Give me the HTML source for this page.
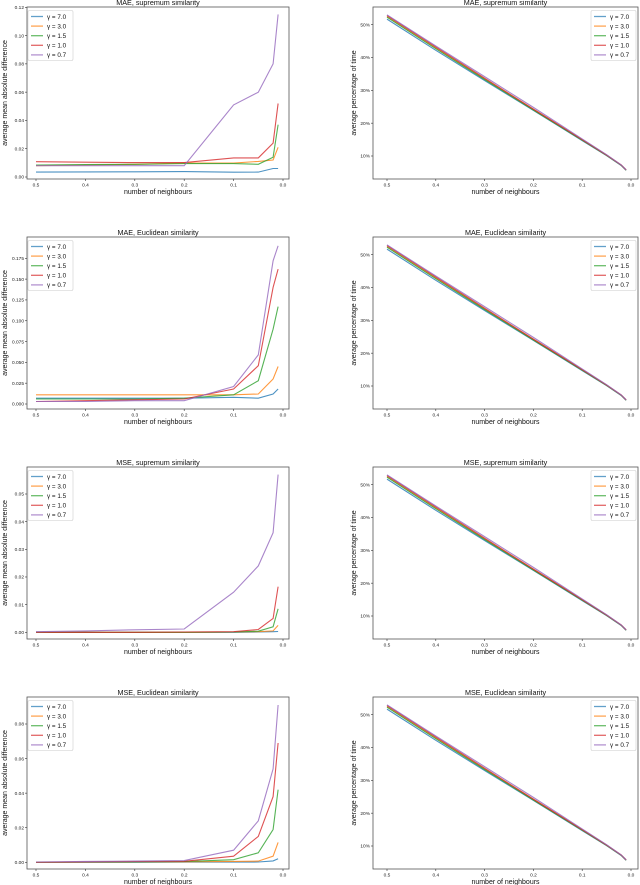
<!DOCTYPE html>
<html><head><meta charset="utf-8">
<style>
body{margin:0;background:#fff;}
svg{display:block;font-family:"Liberation Sans","DejaVu Sans",sans-serif;}
</style></head>
<body>
<svg id="fig" width="640" height="885" viewBox="0 0 640 885" xmlns="http://www.w3.org/2000/svg"></svg>
<script>
// ---- data ----
const xs = [0.5, 0.4, 0.3, 0.2, 0.1, 0.05, 0.02, 0.01];
const seriesNames = ["γ = 7.0", "γ = 3.0", "γ = 1.5", "γ = 1.0", "γ = 0.7"];
const titles = ["MAE, supremum similarity", "MAE, Euclidean similarity", "MSE, supremum similarity", "MSE, Euclidean similarity"];
const xTicks = [0.5, 0.4, 0.3, 0.2, 0.1, 0.0];
const xTickLabels = ["0.5", "0.4", "0.3", "0.2", "0.1", "0.0"];

const maeSup = [
  [0.0035, 0.0036, 0.0037, 0.0038, 0.0034, 0.0035, 0.006, 0.006],
  [0.008, 0.0085, 0.009, 0.0098, 0.0098, 0.011, 0.012, 0.021],
  [0.0085, 0.0088, 0.009, 0.0095, 0.0095, 0.009, 0.014, 0.037],
  [0.0108, 0.0105, 0.0102, 0.0102, 0.0135, 0.0135, 0.024, 0.052],
  [0.008, 0.008, 0.008, 0.008, 0.051, 0.06, 0.08, 0.115]
];
const maeEuc = [
  [0.007, 0.007, 0.007, 0.007, 0.008, 0.007, 0.012, 0.018],
  [0.011, 0.011, 0.011, 0.011, 0.011, 0.012, 0.03, 0.045],
  [0.006, 0.006, 0.006, 0.007, 0.011, 0.028, 0.09, 0.117],
  [0.003, 0.004, 0.005, 0.006, 0.018, 0.046, 0.14, 0.162],
  [0.003, 0.003, 0.004, 0.004, 0.021, 0.059, 0.172, 0.19]
];
const mseSup = [
  [0.0, 0.0, 0.0, 0.0, 0.0, 0.0001, 0.0002, 0.0003],
  [0.0, 0.0, 0.0, 0.0, 0.0001, 0.0002, 0.0005, 0.0025],
  [0.0, 0.0, 0.0, 0.0, 0.0001, 0.0004, 0.002, 0.0085],
  [0.0, 0.0, 0.0, 0.0001, 0.0002, 0.001, 0.005, 0.0165],
  [0.0002, 0.0005, 0.0009, 0.0012, 0.0145, 0.024, 0.036, 0.057]
];
const mseEuc = [
  [0.0, 0.0, 0.0, 0.0001, 0.0001, 0.0002, 0.0008, 0.002],
  [0.0, 0.0001, 0.0002, 0.0003, 0.0005, 0.0007, 0.0035, 0.0115],
  [0.0, 0.0002, 0.0003, 0.0004, 0.0015, 0.0055, 0.019, 0.042],
  [0.0, 0.0003, 0.0005, 0.0006, 0.0035, 0.015, 0.038, 0.069],
  [0.0002, 0.0005, 0.0007, 0.001, 0.007, 0.024, 0.054, 0.091]
];
const timePct = [
  [51.7, 42.2, 33.0, 23.9, 14.7, 10.1, 7.1, 5.6],
  [52.5, 42.9, 33.5, 24.2, 14.9, 10.2, 7.2, 5.7],
  [52.3, 42.7, 33.3, 24.0, 14.8, 10.2, 7.2, 5.7],
  [52.8, 43.2, 33.7, 24.3, 15.0, 10.3, 7.3, 5.8],
  [53.0, 43.5, 34.2, 24.8, 15.2, 10.4, 7.3, 5.8]
];
const leftData = [maeSup, maeEuc, mseSup, mseEuc];
const leftTicks = [
  [0, 0.02, 0.04, 0.06, 0.08, 0.10, 0.12],
  [0, 0.025, 0.05, 0.075, 0.1, 0.125, 0.15, 0.175],
  [0, 0.01, 0.02, 0.03, 0.04, 0.05],
  [0, 0.02, 0.04, 0.06, 0.08]
];
const leftTickLabels = [
  ["0.00","0.02","0.04","0.06","0.08","0.10","0.12"],
  ["0.000","0.025","0.050","0.075","0.100","0.125","0.150","0.175"],
  ["0.00","0.01","0.02","0.03","0.04","0.05"],
  ["0.00","0.02","0.04","0.06","0.08"]
];
const pctTicks = [10, 20, 30, 40, 50];
const pctTickLabels = ["10%", "20%", "30%", "40%", "50%"];
// ---- layout ----
const colors = ["#1f77b4","#ff7f0e","#2ca02c","#d62728","#9467bd"];
const rowTop = [7, 237, 467, 697];
const axH = 172;
const leftCal = [[0, 170, 0.12, 0.3],[0, 167, 0.175, 21.3],[0, 165.3, 0.05, 27],[0, 165.3, 0.08, 27]];
const NS = "http://www.w3.org/2000/svg";
const svg = document.getElementById("fig");
function el(tag, attrs, parent, text){
  const e = document.createElementNS(NS, tag);
  for (const k in attrs) e.setAttribute(k, attrs[k]);
  if (text !== undefined) e.textContent = text;
  (parent || svg).appendChild(e);
  return e;
}
function drawPanel(r, side){
  const left = side === 0 ? 27 : 373;
  const right = side === 0 ? 289 : 638;
  const top = rowTop[r], bottom = top + axH;
  const x0 = side === 0 ? 36 : 387, x1 = side === 0 ? 283 : 631;
  const xScale = v => x1 + (x0 - x1) * (v / 0.5);
  let yScale, ticks, labels, data;
  if (side === 0){
    const c = leftCal[r];
    yScale = v => top + c[1] + (c[3] - c[1]) * (v - c[0]) / (c[2] - c[0]);
    ticks = leftTicks[r]; labels = leftTickLabels[r]; data = leftData[r];
  } else {
    yScale = v => top + 17.7 + (149 - 17.7) * (50 - v) / 40;
    ticks = pctTicks; labels = pctTickLabels; data = timePct;
  }
  const g = el("g", {});
  
  
  const t = el("text", {x:(left+right)/2, y:top-2, "text-anchor":"middle", "font-size":"7.2", fill:"#111"}, g, titles[r]);
  
  
  data.forEach((s, i) => {
    const pts = s.map((v, j) => xScale(xs[j]).toFixed(1) + "," + yScale(v).toFixed(1)).join(" ");
    const pl = el("polyline", {points:pts, fill:"none", stroke:colors[i], "stroke-width":"1.1", "stroke-opacity":"0.8"}, g);
    
    
  });
  const frame = el("rect", {x:left, y:top, width:right-left, height:axH, fill:"none", stroke:"#555", "stroke-width":"0.8"}, g);
  
  
  xTicks.forEach((v, i) => {
    const x = xScale(v);
    el("line", {x1:x, x2:x, y1:bottom, y2:bottom+2, stroke:"#333", "stroke-width":"0.6"}, g);
    const tl = el("text", {x:x, y:bottom+7.5, "text-anchor":"middle", "font-size":"4.8", fill:"#222"}, g, xTickLabels[i]);
    
    
  });
  ticks.forEach((v, i) => {
    const y = yScale(v);
    el("line", {x1:left-2, x2:left, y1:y, y2:y, stroke:"#333", "stroke-width":"0.6"}, g);
    const tl = el("text", {x:left-3, y:y+1.7, "text-anchor":"end", "font-size":"4.8", fill:"#222"}, g, labels[i]);
    
    
  });
  const xl = el("text", {x:(left+right)/2, y:bottom+15, "text-anchor":"middle", "font-size":"7", fill:"#111"}, g, "number of neighbours");
  
  
  const yx = side === 0 ? 7 : 356;
  const ylab = side === 0 ? "average mean absolute difference" : "average percentage of time";
  const yl = el("text", {x:yx, y:top+axH/2, "text-anchor":"middle", "font-size":"7", fill:"#111", transform:"rotate(-90 "+yx+" "+(top+axH/2)+")"}, g, ylab);
  
  
  const lx = side === 0 ? 28 : 591, ly = top + 3.5;
  const lg = el("g", {}, g);
  
  
  el("rect", {x:lx, y:ly, width:45, height:50, rx:1.5, fill:"#fff", "fill-opacity":"0.85", stroke:"#ccc", "stroke-width":"0.6"}, lg);
  seriesNames.forEach((n, i) => {
    const yy = ly + 6 + i * 9.6;
    el("line", {x1:lx+3, x2:lx+15, y1:yy, y2:yy, stroke:colors[i], "stroke-width":"1.3", "stroke-opacity":"0.7"}, lg);
    const et = el("text", {x:lx+19, y:yy+2.3, "font-size":"6.3", fill:"#111"}, lg, n);
    
    
  });
}
for (let r = 0; r < 4; r++){ drawPanel(r, 0); drawPanel(r, 1); }
</script>
</body></html>
